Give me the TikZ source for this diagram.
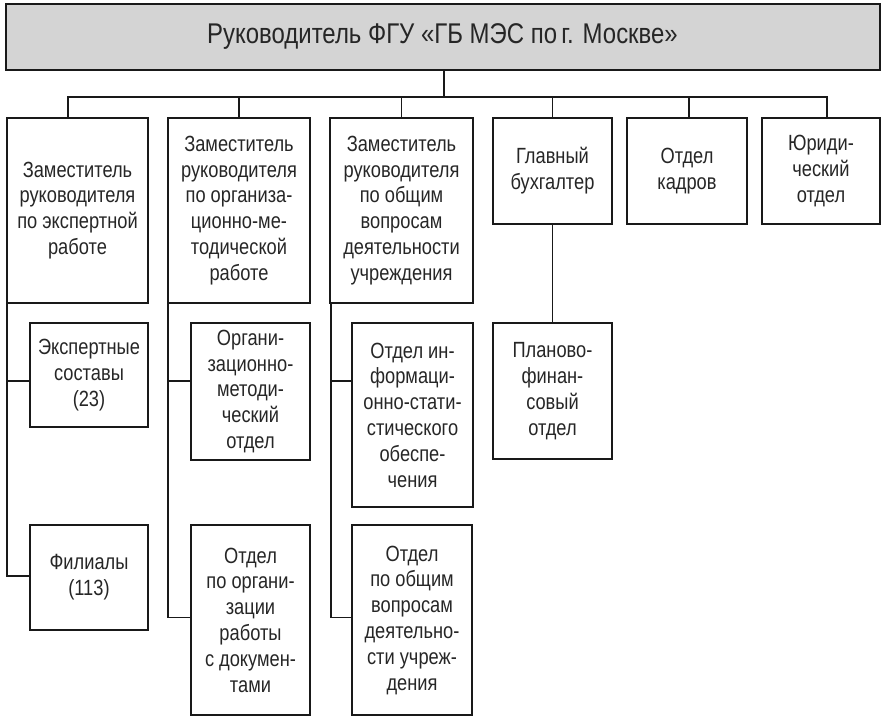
\documentclass[tikz,border=0pt]{standalone}
\usepackage{fontspec}
\setmainfont{Liberation Sans}[FakeStretch=0.83]
\newfontfamily\titlefont{Liberation Sans}[FakeStretch=0.84]
\begin{document}
\begin{tikzpicture}[x=1pt,y=-1pt,
  every node/.style={inner sep=0pt,outer sep=0pt},
  box/.style={draw=black!90,line width=2pt,align=center,text=black!85,
    font=\fontsize{22}{25.8}\selectfont},
  conn/.style={draw=black!90,line width=1.8pt}]
\useasboundingbox (0,0) rectangle (882,718);
\node[box,fill=black!17,minimum width=874,minimum height=66,
  font=\titlefont\fontsize{28.5}{32}\selectfont] (top) at (442.5,37)
  {Руководитель ФГУ «ГБ МЭС по\kern0.15em г. Москве»};
\node[box,minimum width=141,minimum height=185] (b1) at (77.5,210.5)
  {Заместитель\\руководителя\\по экспертной\\работе};
\node[box,minimum width=142,minimum height=185] (b2) at (239,210.5)
  {Заместитель\\руководителя\\по организа-\\ционно-ме-\\тодической\\работе};
\node[box,minimum width=143,minimum height=185] (b3) at (401.5,210.5)
  {Заместитель\\руководителя\\по общим\\вопросам\\деятельности\\учреждения};
\node[box,minimum width=119,minimum height=106] (b4) at (552.5,171)
  {Главный\\бухгалтер};
\node[box,minimum width=120,minimum height=106] (b5) at (687,171)
  {Отдел\\кадров};
\node[box,minimum width=118,minimum height=106] (b6) at (821,171)
  {Юриди-\\ческий\\отдел};
\node[box,minimum width=118,minimum height=104] (s11) at (89,375)
  {Экспертные\\составы\\(23)};
\node[box,minimum width=118,minimum height=105] (s12) at (89,577.5)
  {Филиалы\\(113)};
\node[box,minimum width=119,minimum height=137] (s21) at (250.5,391.5)
  {Органи-\\зационно-\\методи-\\ческий\\отдел};
\node[box,minimum width=119,minimum height=190] (s22) at (250.5,620)
  {Отдел\\по органи-\\зации\\работы\\с докумен-\\тами};
\node[box,minimum width=121,minimum height=184] (s31) at (412.5,415)
  {Отдел ин-\\формаци-\\онно-стати-\\стического\\обеспе-\\чения};
\node[box,minimum width=120,minimum height=190] (s32) at (412,620)
  {Отдел\\по общим\\вопросам\\деятельно-\\сти учреж-\\дения};
\node[box,minimum width=119,minimum height=136] (s41) at (552.5,391)
  {Планово-\\финан-\\совый\\отдел};
% bus
\coordinate (busL) at (68,97);
\coordinate (busR) at (827,97);
\coordinate (r1) at (0,381);
\coordinate (r2) at (0,617.5);
\coordinate (r3) at (0,576);
\draw[conn] (top.south -| 444,0) -- (444,97);
\draw[conn] ([xshift=-0.9pt]busL) -- ([xshift=0.9pt]busR);
\draw[conn] (busL) -- (busL |- b1.north);
\draw[conn] (b2.north |- busL) -- (b2.north);
\draw[conn] (b3.north |- busL) -- (b3.north);
\draw[conn] (b4.north |- busL) -- (b4.north);
\draw[conn] ([xshift=2pt]b5.north |- busL) -- ([xshift=2pt]b5.north);
\draw[conn] (busR) -- (busR |- b6.north);
% spines
\draw[conn] (b1.south west) -- (b1.south west |- r3) -- (s12.west |- r3);
\draw[conn] (b1.south west |- r1) -- (s11.west |- r1);
\draw[conn] (b2.south west) -- (b2.south west |- r2) -- (s22.west |- r2);
\draw[conn] (b2.south west |- r1) -- (s21.west |- r1);
\draw[conn] ([xshift=1pt]b3.south west) -- ([xshift=1pt]b3.south west |- r2) -- (s32.west |- r2);
\draw[conn] ([xshift=1pt]b3.south west |- r1) -- (s31.west |- r1);
\draw[conn] (b4.south) -- (s41.north);
\end{tikzpicture}
\end{document}
